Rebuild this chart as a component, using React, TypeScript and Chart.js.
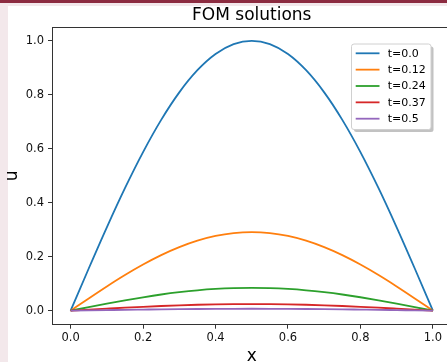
import { useEffect, useRef } from 'react';
import { Chart, registerables } from 'chart.js';

Chart.register(...registerables);

// Sample positions along x
const xs = [
  0, 0.05, 0.1, 0.15, 0.2, 0.25, 0.3, 0.35, 0.4, 0.45, 0.5,
  0.55, 0.6, 0.65, 0.7, 0.75, 0.8, 0.85, 0.9, 0.95, 1.0,
];

// Solution u(x) at each time level
const uT000 = [
  0, 0.1564, 0.309, 0.454, 0.5878, 0.7071, 0.809, 0.891, 0.9511, 0.9877, 1.0,
  0.9877, 0.9511, 0.891, 0.809, 0.7071, 0.5878, 0.454, 0.309, 0.1564, 0,
];
const uT012 = [
  0, 0.0455, 0.0899, 0.1321, 0.171, 0.2058, 0.2354, 0.2593, 0.2768, 0.2874, 0.291,
  0.2874, 0.2768, 0.2593, 0.2354, 0.2058, 0.171, 0.1321, 0.0899, 0.0455, 0,
];
const uT024 = [
  0, 0.0133, 0.0262, 0.0385, 0.0498, 0.06, 0.0686, 0.0756, 0.0807, 0.0838, 0.0848,
  0.0838, 0.0807, 0.0756, 0.0686, 0.06, 0.0498, 0.0385, 0.0262, 0.0133, 0,
];
const uT037 = [
  0, 0.0039, 0.0076, 0.0112, 0.0145, 0.0175, 0.02, 0.022, 0.0235, 0.0244, 0.0247,
  0.0244, 0.0235, 0.022, 0.02, 0.0175, 0.0145, 0.0112, 0.0076, 0.0039, 0,
];
const uT050 = [
  0, 0.0011, 0.0022, 0.0033, 0.0042, 0.0051, 0.0058, 0.0064, 0.0068, 0.0071, 0.0072,
  0.0071, 0.0068, 0.0064, 0.0058, 0.0051, 0.0042, 0.0033, 0.0022, 0.0011, 0,
];

const seriesLabels = ['t=0.0', 't=0.12', 't=0.24', 't=0.37', 't=0.5'];
const seriesValues = [uT000, uT012, uT024, uT037, uT050];
const seriesColors = ['#1f77b4', '#ff7f0e', '#2ca02c', '#d62728', '#9467bd'];

const tickValues = [0, 0.2, 0.4, 0.6, 0.8, 1.0];
const titleText = 'FOM solutions';
const xTitle = 'x';
const yTitle = 'u';

const FONT = "'DejaVu Sans', sans-serif";
const AXIS_COLOR = '#333333';

// Title, top spine and an in-axes legend box with a drop shadow
const framePlugin = {
  id: 'frame',
  afterDraw(chart: any) {
    const { ctx, chartArea } = chart;
    ctx.save();

    // top spine
    ctx.strokeStyle = AXIS_COLOR;
    ctx.lineWidth = 1;
    ctx.beginPath();
    ctx.moveTo(chartArea.left, 27.5);
    ctx.lineTo(chartArea.right, 27.5);
    ctx.stroke();

    // title
    ctx.font = `17px ${FONT}`;
    ctx.fillStyle = '#000';
    ctx.textAlign = 'center';
    ctx.textBaseline = 'alphabetic';
    ctx.fillText(titleText, (chartArea.left + chartArea.right) / 2, 20);

    // legend
    const lx = 351.5;
    const ly = 44;
    const lw = 79.5;
    const lh = 85.5;
    const r = 2.5;
    const roundRect = (x: number, y: number, w: number, h: number) => {
      ctx.beginPath();
      ctx.moveTo(x + r, y);
      ctx.lineTo(x + w - r, y);
      ctx.quadraticCurveTo(x + w, y, x + w, y + r);
      ctx.lineTo(x + w, y + h - r);
      ctx.quadraticCurveTo(x + w, y + h, x + w - r, y + h);
      ctx.lineTo(x + r, y + h);
      ctx.quadraticCurveTo(x, y + h, x, y + h - r);
      ctx.lineTo(x, y + r);
      ctx.quadraticCurveTo(x, y, x + r, y);
      ctx.closePath();
    };
    roundRect(lx + 2.5, ly + 2.5, lw, lh);
    ctx.fillStyle = '#c2c2c2';
    ctx.fill();
    roundRect(lx, ly, lw, lh);
    ctx.fillStyle = '#ffffff';
    ctx.fill();
    ctx.strokeStyle = '#d0d0d0';
    ctx.lineWidth = 1;
    ctx.stroke();

    ctx.font = `11px ${FONT}`;
    ctx.textAlign = 'left';
    ctx.textBaseline = 'middle';
    chart.data.datasets.forEach((ds: any, i: number) => {
      const y = 53.3 + i * 16.35;
      ctx.strokeStyle = ds.borderColor;
      ctx.lineWidth = 1.8;
      ctx.beginPath();
      ctx.moveTo(355.7, y);
      ctx.lineTo(379.5, y);
      ctx.stroke();
      ctx.fillStyle = '#000';
      ctx.fillText(ds.label, 387.7, y + 0.5);
    });

    ctx.restore();
  },
};

const fixedTicks = (scale: any) => {
  scale.ticks = tickValues.map((v) => ({ value: v }));
};

export default function App() {
  const ref = useRef<HTMLCanvasElement>(null);

  useEffect(() => {
    const canvas = ref.current;
    if (!canvas) return;
    const n = seriesValues.length;
    const chart = new Chart(canvas, {
      type: 'line',
      data: {
        datasets: seriesValues.map((vals, i) => ({
          label: seriesLabels[i],
          data: xs.map((x, k) => ({ x, y: vals[k] })),
          borderColor: seriesColors[i],
          backgroundColor: seriesColors[i],
          borderWidth: 1.8,
          pointRadius: 0,
          fill: false,
          cubicInterpolationMode: 'monotone' as const,
          order: n - i,
        })),
      },
      options: {
        animation: false,
        responsive: false,
        devicePixelRatio: 1,
        events: [],
        layout: { padding: { left: 0, top: 27.3, right: 49, bottom: 0 } },
        plugins: {
          legend: { display: false },
          title: { display: false },
          tooltip: { enabled: false },
        },
        scales: {
          x: {
            type: 'linear',
            min: -0.05,
            max: 1.05,
            afterBuildTicks: fixedTicks,
            afterFit: (s: any) => {
              s.height = 370 - 324.2;
            },
            grid: {
              display: true,
              drawOnChartArea: false,
              drawTicks: true,
              tickLength: 4.5,
              color: AXIS_COLOR,
              lineWidth: 1,
            },
            border: { display: true, color: AXIS_COLOR, width: 1 },
            ticks: {
              autoSkip: false,
              maxRotation: 0,
              padding: 2,
              color: '#111',
              font: { family: FONT, size: 11.5 },
              callback: (v: any) => Number(v).toFixed(1),
            },
            title: {
              display: true,
              text: xTitle,
              color: '#000',
              font: { family: FONT, size: 17 },
              padding: { top: 0, bottom: 3.3 },
            },
          },
          y: {
            type: 'linear',
            min: -0.05,
            max: 1.05,
            afterBuildTicks: fixedTicks,
            afterFit: (s: any) => {
              s.width = 52.5;
            },
            grid: {
              display: true,
              drawOnChartArea: false,
              drawTicks: true,
              tickLength: 4.5,
              color: AXIS_COLOR,
              lineWidth: 1,
            },
            border: { display: true, color: AXIS_COLOR, width: 1 },
            ticks: {
              autoSkip: false,
              padding: 4,
              color: '#111',
              font: { family: FONT, size: 11.5 },
              callback: (v: any) => Number(v).toFixed(1),
            },
            title: {
              display: true,
              text: yTitle,
              color: '#000',
              font: { family: FONT, size: 17 },
              padding: { top: 2.75, bottom: 0 },
            },
          },
        },
      },
      plugins: [framePlugin],
    });
    return () => chart.destroy();
  }, []);

  return (
    <div
      style={{
        position: 'fixed',
        left: 0,
        top: 0,
        width: 447,
        height: 362,
        overflow: 'hidden',
        background: '#f3e8eb',
      }}
    >
      <div style={{ position: 'absolute', left: 0, top: 0, width: '100%', height: 3, background: '#8c2b40' }} />
      <div style={{ position: 'absolute', left: 8, top: 6, right: 0, bottom: 0, background: '#ffffff' }} />
      <canvas
        ref={ref}
        width={500}
        height={370}
        style={{ position: 'absolute', left: 0, top: 0, width: 500, height: 370 }}
      />
    </div>
  );
}
